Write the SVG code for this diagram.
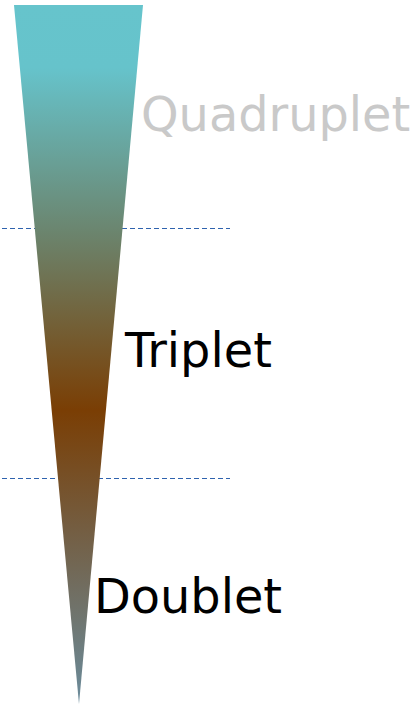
<svg xmlns="http://www.w3.org/2000/svg" width="416" height="705" viewBox="0 0 416 705">
  <style>
    .dash { stroke: #2E62AE; stroke-width: 1.2; stroke-dasharray: 5 3; fill: none; }
    .lbl { font-family: "DejaVu Sans", Verdana, sans-serif; font-size: 47.8px; }
  </style>
  <defs>
    <linearGradient id="g" x1="0" y1="5" x2="0" y2="704" gradientUnits="userSpaceOnUse">
      <stop offset="0" stop-color="#66C4CC"/>
      <stop offset="0.09" stop-color="#66C3CB"/>
      <stop offset="0.32" stop-color="#6B8670"/>
      <stop offset="0.58" stop-color="#7A3E04"/>
      <stop offset="1" stop-color="#6B8C9C"/>
    </linearGradient>
  </defs>
  <g id="connectors">
    <line class="dash" x1="2" y1="228.5" x2="230" y2="228.5"/>
    <line class="dash" x1="2" y1="478.5" x2="230" y2="478.5"/>
  </g>
  <g id="cone">
    <polygon points="14,5 143,5 79,704" fill="url(#g)"/>
  </g>
  <g id="quadruplet">
    <text class="lbl" x="141" y="131" fill="#C9C9C9">Quadruplet</text>
  </g>
  <g id="triplet">
    <text class="lbl" x="125" y="367" fill="#000">Triplet</text>
  </g>
  <g id="doublet">
    <text class="lbl" x="94" y="613" fill="#000">Doublet</text>
  </g>
</svg>
